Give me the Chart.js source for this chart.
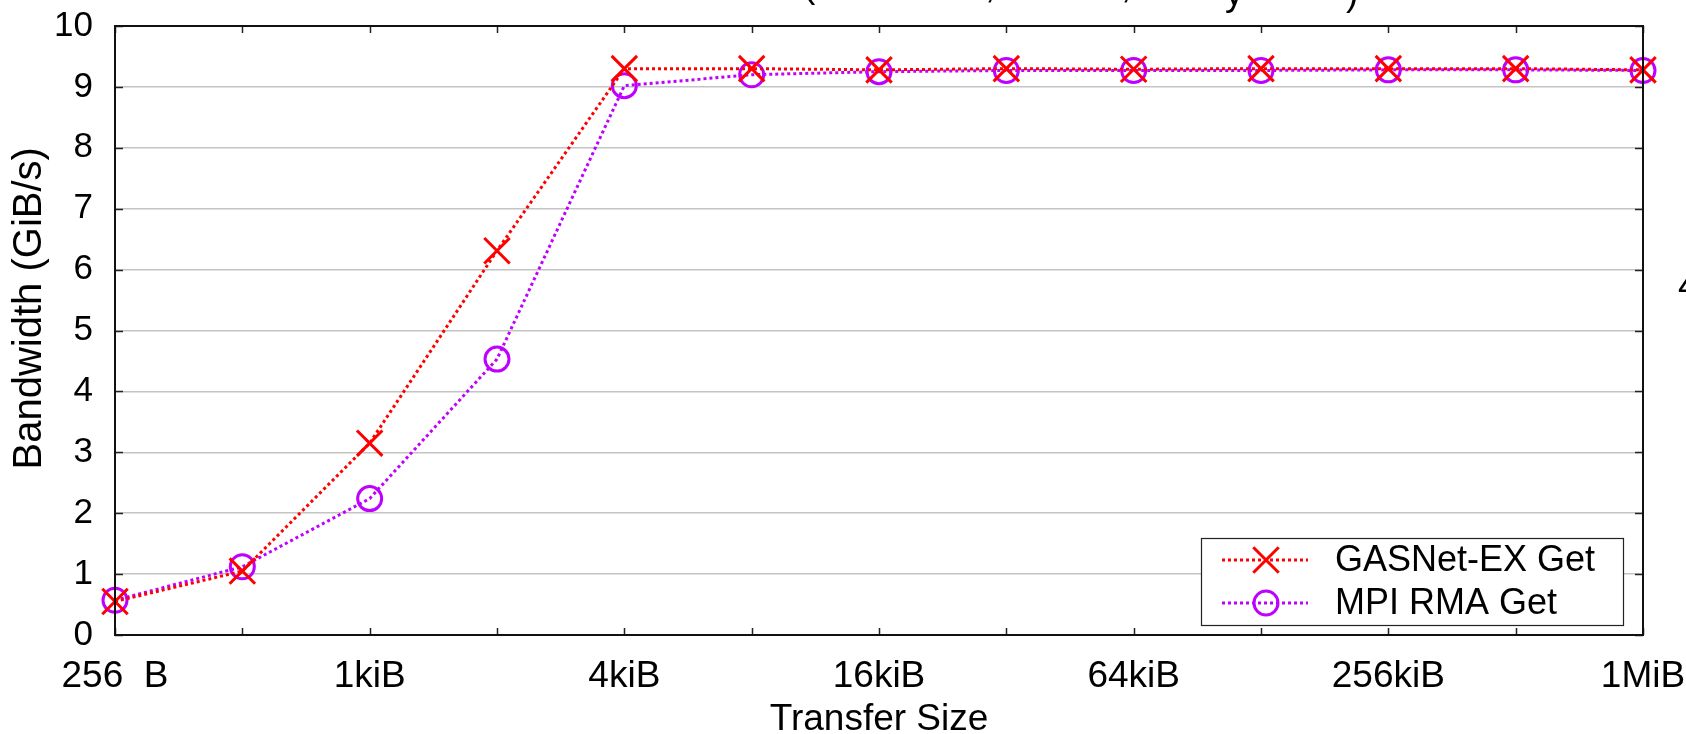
<!DOCTYPE html>
<html>
<head>
<meta charset="utf-8">
<script src="https://cdn.jsdelivr.net/npm/chart.js@4"></script>
<style>
  html, body { margin: 0; padding: 0; background: #fff; }
  #wrap { width: 1686px; height: 734px; }
</style>
</head>
<body>
<div id="wrap"><canvas id="myChart" width="1686" height="734"></canvas></div>
<script>
// transfer sizes, 256 B .. 1 MiB (powers of two)
const sizes = ['256  B', '512 B', '1kiB', '2kiB', '4kiB', '8kiB', '16kiB', '32kiB', '64kiB', '128kiB', '256kiB', '512kiB', '1MiB'];
const shownLabels = ['256  B', '1kiB', '4kiB', '16kiB', '64kiB', '256kiB', '1MiB'];
const gasnetGet = [0.55, 1.05, 3.15, 6.31, 9.30, 9.30, 9.28, 9.30, 9.29, 9.30, 9.30, 9.30, 9.28];
const mpiRmaGet = [0.57, 1.12, 2.24, 4.53, 9.02, 9.20, 9.25, 9.27, 9.27, 9.27, 9.28, 9.28, 9.27];
const yTicks = [0, 1, 2, 3, 4, 5, 6, 7, 8, 9, 10];

const FONT = '"Liberation Sans", Arial, Helvetica, sans-serif';

// box, inward tick marks, legend and cut-off bits of text
const framePlugin = {
  id: 'frame',
  afterDatasetsDraw(chart) {
    const ctx = chart.ctx;
    const a = chart.chartArea;
    const xs = chart.scales.x, ys = chart.scales.y;
    ctx.save();
    ctx.strokeStyle = '#222';
    ctx.lineWidth = 1.5;
    // x tick marks (bottom and top)
    sizes.forEach((s, i) => {
      const px = Math.round(xs.getPixelForValue(i)) + 0.5;
      ctx.beginPath();
      ctx.moveTo(px, a.bottom); ctx.lineTo(px, a.bottom - 7);
      ctx.moveTo(px, a.top); ctx.lineTo(px, a.top + 7);
      ctx.stroke();
    });
    // y tick marks (left and right)
    yTicks.forEach(v => {
      const py = Math.round(ys.getPixelForValue(v)) + 0.5;
      ctx.beginPath();
      ctx.moveTo(a.left, py); ctx.lineTo(a.left + 8, py);
      ctx.moveTo(a.right, py); ctx.lineTo(a.right - 8, py);
      ctx.stroke();
    });
    // frame
    ctx.lineWidth = 2;
    ctx.strokeStyle = '#111';
    ctx.strokeRect(a.left, a.top, a.right - a.left, a.bottom - a.top);

    // legend box
    const lx = 1201, ly = 538, lw = 422, lh = 87;
    ctx.fillStyle = '#fff';
    ctx.fillRect(lx, ly, lw, lh);
    ctx.lineWidth = 1.2;
    ctx.strokeStyle = '#222';
    ctx.strokeRect(lx + 0.5, ly + 0.5, lw, lh);
    const rows = [{ y: 560, ds: chart.data.datasets[0] }, { y: 603, ds: chart.data.datasets[1] }];
    rows.forEach(r => {
      ctx.save();
      ctx.strokeStyle = r.ds.borderColor;
      ctx.lineWidth = 3;
      ctx.setLineDash([3, 3]);
      ctx.beginPath();
      ctx.moveTo(1222, r.y); ctx.lineTo(1308, r.y);
      ctx.stroke();
      ctx.setLineDash([]);
      ctx.fillStyle = 'rgba(0,0,0,0)';
      Chart.helpers.drawPoint(ctx, {
        pointStyle: r.ds.pointStyle, radius: r.ds.pointRadius, borderWidth: 3, rotation: 0
      }, 1266, r.y);
      ctx.restore();
      ctx.fillStyle = '#000';
      ctx.font = '36px ' + FONT;
      ctx.textBaseline = 'middle';
      ctx.fillText(r.ds.label, 1335, r.y + 1);
    });
    ctx.restore();
  },
  afterDraw(chart) {
    const ctx = chart.ctx;
    ctx.save();
    ctx.fillStyle = '#000';
    ctx.font = '37px ' + FONT;
    ctx.textBaseline = 'alphabetic';
    // title above, mostly outside the picture
    ctx.fillText('(', 803, -3);
    ctx.fillText(',', 985, -2);
    ctx.fillText(',', 1121, -2);
    ctx.fillText('y', 1225, 5);
    ctx.fillText(')', 1346, 5);
    // neighbouring figure, cut at the right edge
    ctx.fillText('4', 1678, 298);
    ctx.restore();
  }
};

const data = {
  labels: sizes,
  datasets: [
    {
      label: 'GASNet-EX Get',
      data: gasnetGet,
      borderColor: 'rgb(255, 0, 0)',
      backgroundColor: 'rgb(255, 0, 0)',
      borderWidth: 3,
      borderDash: [3, 3],
      pointStyle: 'crossRot',
      pointRadius: 18,
      pointBorderWidth: 3,
      pointHoverRadius: 18,
      tension: 0
    },
    {
      label: 'MPI RMA Get',
      data: mpiRmaGet,
      borderColor: 'rgb(191, 0, 255)',
      backgroundColor: 'rgba(0, 0, 0, 0)',
      borderWidth: 3,
      borderDash: [3, 3],
      pointStyle: 'circle',
      pointRadius: 12,
      pointBorderWidth: 3,
      pointHoverRadius: 12,
      tension: 0
    }
  ]
};

const config = {
  type: 'line',
  data: data,
  plugins: [framePlugin],
  options: {
    responsive: false,
    animation: false,
    layout: { padding: { top: 26, right: 43, left: 0, bottom: 0 } },
    plugins: {
      legend: { display: false },
      tooltip: { enabled: false }
    },
    scales: {
      x: {
        type: 'category',
        offset: false,
        grid: { display: false, drawTicks: false },
        border: { display: false },
        ticks: {
          autoSkip: false,
          maxRotation: 0,
          padding: 20,
          color: '#000',
          font: { family: FONT, size: 37 },
          callback: function(value, index) {
            const l = sizes[index];
            return shownLabels.includes(l) ? l : '';
          }
        },
        title: {
          display: true,
          text: 'Transfer Size',
          color: '#000',
          font: { family: FONT, size: 37, lineHeight: 0.75 },
          padding: { top: 0, bottom: 0 }
        },
        afterFit: s => { s.height = 99; s.paddingLeft = 0; s.paddingRight = 0; }
      },
      y: {
        min: 0,
        max: 10,
        grid: { color: '#c4c4c4', lineWidth: 1.5, drawTicks: false },
        border: { display: false },
        ticks: {
          stepSize: 1,
          padding: 22,
          color: '#000',
          font: { family: FONT, size: 35 }
        },
        title: {
          display: true,
          text: '    Bandwidth (GiB/s)',
          color: '#000',
          font: { family: FONT, size: 40 },
          padding: { top: 6, bottom: 0 }
        },
        afterFit: s => { s.width = 115; s.paddingTop = 0; s.paddingBottom = 0; }
      }
    }
  }
};

const myChart = new Chart(document.getElementById('myChart'), config);
</script>
</body>
</html>
